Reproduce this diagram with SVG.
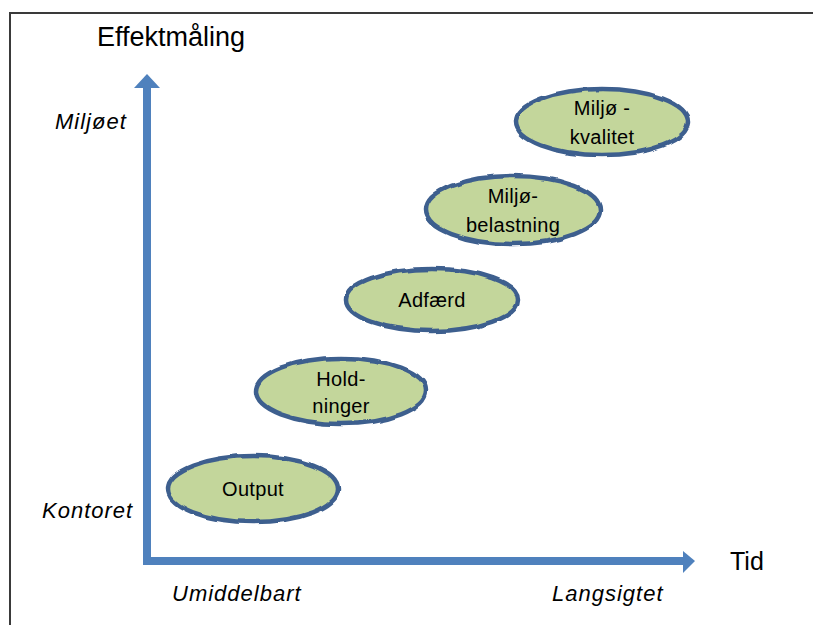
<svg xmlns="http://www.w3.org/2000/svg" width="813" height="625" viewBox="0 0 813 625">
<defs>
<style>
.bg{fill:#ffffff}
.frame{fill:none;stroke:#3a3a3a;stroke-width:2}
.axis{fill:#4f81bd}
.node ellipse{fill:#c3d69b;stroke:#3e5f8e;stroke-width:4.5}
.lbl{font-family:"Liberation Sans",Arial,sans-serif;font-size:20px;fill:#000;text-anchor:middle;letter-spacing:0.3px}
.ax{font-family:"Liberation Sans",Arial,sans-serif;font-size:22px;font-style:italic;fill:#000;letter-spacing:1px}
.title{font-family:"Liberation Sans",Arial,sans-serif;font-size:27px;fill:#000}
</style>
<filter id="wavy" x="-10%" y="-20%" width="120%" height="140%">
<feTurbulence type="fractalNoise" baseFrequency="0.06" numOctaves="1" seed="3" result="n"/>
<feDisplacementMap in="SourceGraphic" in2="n" scale="4" xChannelSelector="R" yChannelSelector="G"/>
</filter>
</defs>
<rect class="bg" x="0" y="0" width="813" height="625"/>
<path class="frame" d="M10,625 V13 H813"/>
<text class="title" x="97" y="46">Effektmåling</text>
<g id="axes">
<rect class="axis" x="143" y="86" width="8" height="479"/>
<polygon class="axis" points="134,88 147,74 160,88"/>
<rect class="axis" x="143" y="557" width="541" height="8"/>
<polygon class="axis" points="683,551 695,561 683,573"/>
</g>
<text class="ax" x="55" y="129">Miljøet</text>
<text class="ax" x="42" y="518">Kontoret</text>
<text class="ax" x="172" y="601">Umiddelbart</text>
<text class="ax" x="552" y="601">Langsigtet</text>
<text class="title" x="730" y="570" style="font-size:25px">Tid</text>
<g id="output" class="node">
<ellipse cx="253" cy="489" rx="85" ry="33" filter="url(#wavy)"/>
<text class="lbl" x="253" y="496">Output</text>
</g>
<g id="holdninger" class="node">
<ellipse cx="341" cy="391" rx="85" ry="33" filter="url(#wavy)"/>
<text class="lbl" x="341" y="386">Hold-</text>
<text class="lbl" x="341" y="413">ninger</text>
</g>
<g id="adfaerd" class="node">
<ellipse cx="432" cy="300" rx="86" ry="31" filter="url(#wavy)"/>
<text class="lbl" x="432" y="307">Adfærd</text>
</g>
<g id="miljobelastning" class="node">
<ellipse cx="513" cy="210" rx="87" ry="34" filter="url(#wavy)"/>
<text class="lbl" x="513" y="203">Miljø-</text>
<text class="lbl" x="513" y="232">belastning</text>
</g>
<g id="miljokvalitet" class="node">
<ellipse cx="602" cy="122" rx="86" ry="33" filter="url(#wavy)"/>
<text class="lbl" x="602" y="115">Miljø -</text>
<text class="lbl" x="602" y="144">kvalitet</text>
</g>
</svg>
